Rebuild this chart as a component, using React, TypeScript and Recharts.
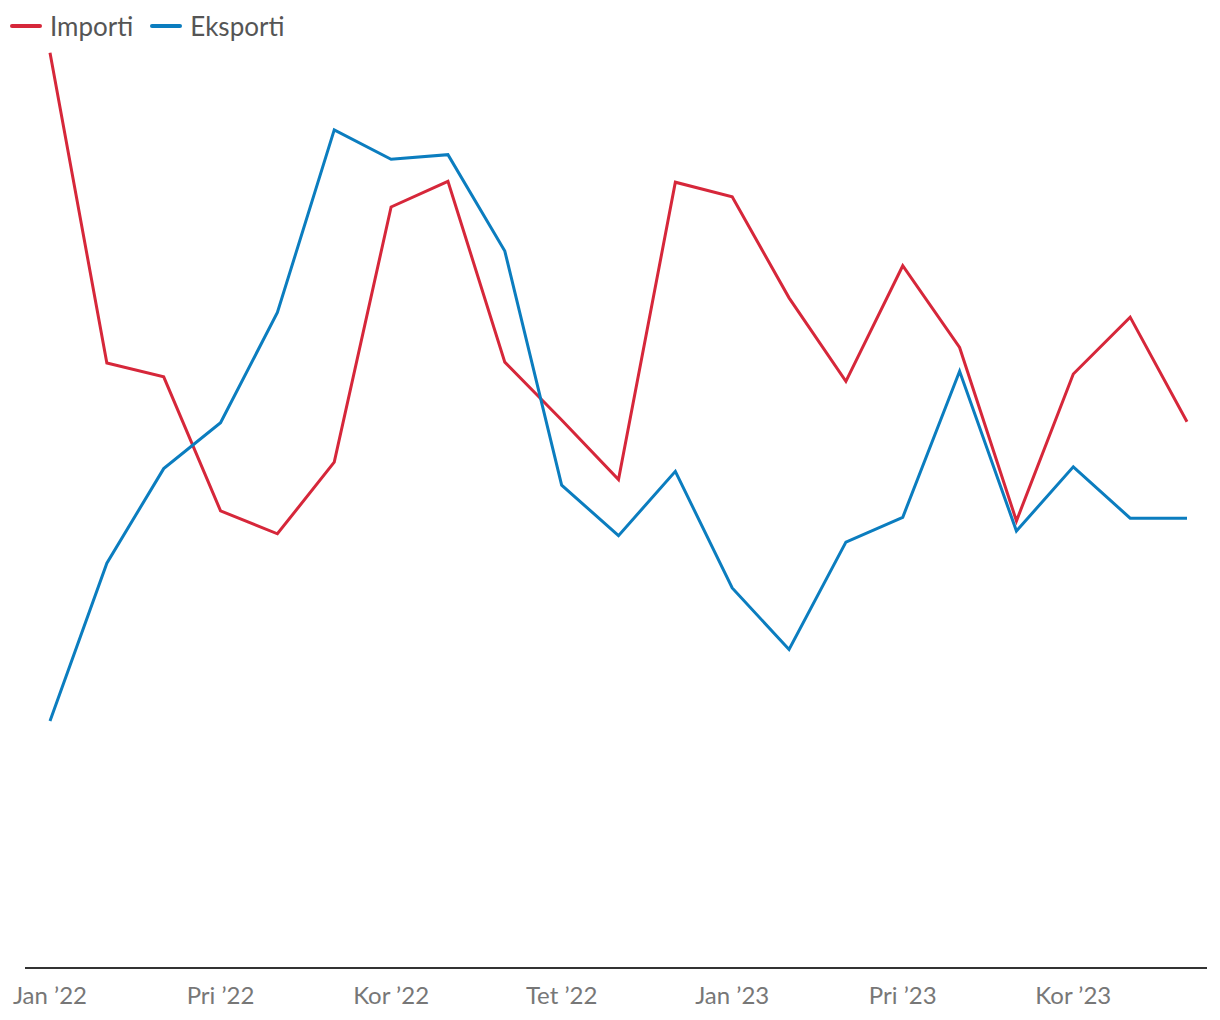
import { LineChart, Line, XAxis, YAxis, Legend } from 'recharts'

const months = [
  'Jan ’22', 'Shk ’22', 'Mar ’22', 'Pri ’22', 'Maj ’22', 'Qer ’22', 'Kor ’22', 'Gus ’22', 'Sht ’22',
  'Tet ’22', 'Nën ’22', 'Dhj ’22', 'Jan ’23', 'Shk ’23', 'Mar ’23', 'Pri ’23', 'Maj ’23', 'Qer ’23',
  'Kor ’23', 'Gus ’23', 'Sht ’23',
]

const importi = [
  99.7, 65.9, 64.4, 49.8, 47.3, 55.1, 82.9, 85.7, 66.0, 59.7, 53.2,
  85.6, 84.0, 73.0, 63.9, 76.5, 67.6, 48.7, 64.7, 70.9, 59.5,
]

const eksporti = [
  26.9, 44.1, 54.4, 59.4, 71.4, 91.3, 88.1, 88.6, 78.1, 52.6, 47.1,
  54.1, 41.4, 34.7, 46.4, 49.1, 65.0, 47.6, 54.6, 49.0, 49.0,
]

const RED = '#d6273a'
const BLUE = '#0b7dbf'
const FONT = 'Lato, "Noto Sans", sans-serif'

const data = months.map((m, i) => ({ month: m, importi: importi[i], eksporti: eksporti[i] }))

function ChartLegend() {
  const items = [
    { label: 'Importi', color: RED },
    { label: 'Eksporti', color: BLUE },
  ]
  return (
    <div style={{ display: 'flex', height: 40, alignItems: 'center', marginTop: -4, fontFamily: FONT }}>
      {items.map((it) => (
        <div key={it.label} style={{ display: 'flex', alignItems: 'center', marginRight: 17 }}>
          <span
            style={{
              display: 'inline-block',
              width: 32,
              height: 4,
              borderRadius: 2,
              background: it.color,
              marginRight: 8,
            }}
          />
          <span style={{ fontSize: 26, color: '#555' }}>{it.label}</span>
        </div>
      ))}
    </div>
  )
}

export default function App() {
  return (
    <div style={{ position: 'absolute', left: 0, top: 0, width: 1220, height: 1020, background: '#fff' }}>
      <LineChart width={1220} height={1020} data={data} margin={{ top: 10, right: 13, left: 25, bottom: 12 }}>
        <Legend
          verticalAlign="top"
          align="left"
          content={() => <ChartLegend />}
          wrapperStyle={{ left: 10, top: 10, width: 400, height: 40 }}
        />
        <XAxis
          dataKey="month"
          interval={2}
          padding={{ left: 25, right: 20 }}
          axisLine={{ stroke: '#333', strokeWidth: 2 }}
          tickLine={false}
          tickMargin={13}
          height={40}
          tick={{ fontSize: 24, fill: '#777', fontFamily: FONT }}
        />
        <YAxis hide domain={[0, 100]} />
        <Line
          type="linear"
          dataKey="importi"
          stroke={RED}
          strokeWidth={3}
          dot={false}
          isAnimationActive={false}
        />
        <Line
          type="linear"
          dataKey="eksporti"
          stroke={BLUE}
          strokeWidth={3}
          dot={false}
          isAnimationActive={false}
        />
      </LineChart>
    </div>
  )
}
